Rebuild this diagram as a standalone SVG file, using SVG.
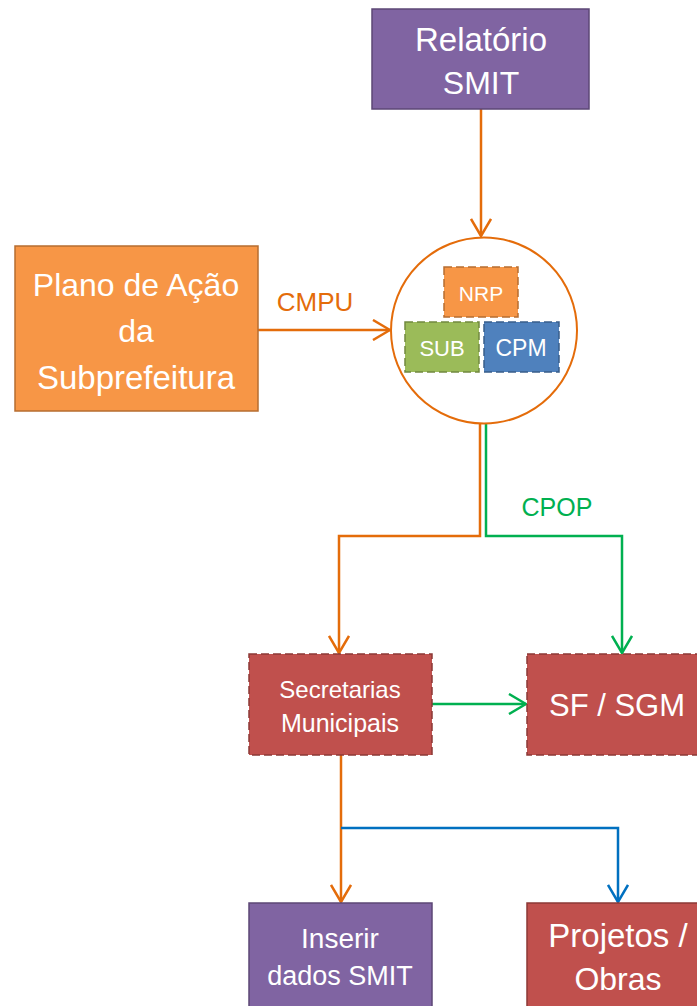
<svg xmlns="http://www.w3.org/2000/svg" width="697" height="1006" viewBox="0 0 697 1006">
<style>
text{font-family:"Liberation Sans","Noto Sans",sans-serif;fill:#fff;text-anchor:middle;dominant-baseline:central}
.purple{fill:#8064A2;stroke:#5C4776;stroke-width:1.5}
.orange{fill:#F79646;stroke:#B66D31;stroke-width:1.5}
.red{fill:#C0504D;stroke:#8C3836;stroke-width:1.5}
.dash{stroke-dasharray:8 4}
.lo{fill:none;stroke:#E46C0A;stroke-width:2.5}
.lg{fill:none;stroke:#00B050;stroke-width:2.5}
.lb{fill:none;stroke:#0070C0;stroke-width:2.5}
</style>
<defs>
<marker id="ao" viewBox="0 0 19 22" refX="18" refY="11" markerWidth="19" markerHeight="22" markerUnits="userSpaceOnUse" orient="auto"><path d="M1,1 L18,11 L1,21" fill="none" stroke="#E46C0A" stroke-width="2.5"/></marker>
<marker id="ag" viewBox="0 0 19 22" refX="18" refY="11" markerWidth="19" markerHeight="22" markerUnits="userSpaceOnUse" orient="auto"><path d="M1,1 L18,11 L1,21" fill="none" stroke="#00B050" stroke-width="2.5"/></marker>
<marker id="ab" viewBox="0 0 19 22" refX="18" refY="11" markerWidth="19" markerHeight="22" markerUnits="userSpaceOnUse" orient="auto"><path d="M1,1 L18,11 L1,21" fill="none" stroke="#0070C0" stroke-width="2.5"/></marker>
</defs>
<rect width="697" height="1006" fill="#fff"/>
<g id="connectors">
<path class="lo" d="M481,109 V236" marker-end="url(#ao)"/>
<path class="lo" d="M258,330 H390" marker-end="url(#ao)"/>
<path class="lo" d="M480,424 V536 H339 V653" marker-end="url(#ao)"/>
<path class="lg" d="M486,424 V536 H622 V653" marker-end="url(#ag)"/>
<path class="lg" d="M432,704 H526" marker-end="url(#ag)"/>
<path class="lo" d="M341,755 V902" marker-end="url(#ao)"/>
<path class="lb" d="M341,828 H618 V902" marker-end="url(#ab)"/>
<text x="315" y="302" style="fill:#E46C0A;font-size:26px">CMPU</text>
<text x="557" y="507" style="fill:#00B050;font-size:25px">CPOP</text>
</g>
<g id="relatorio">
<rect class="purple" x="372" y="9" width="217" height="100"/>
<text x="481" y="39" style="font-size:33px">Relatório</text>
<text x="481" y="83" style="font-size:32px">SMIT</text>
</g>
<g id="plano">
<rect class="orange" x="15" y="246" width="243" height="165"/>
<text x="136" y="285" style="font-size:32px">Plano de Ação</text>
<text x="136" y="331" style="font-size:32px">da</text>
<text x="136" y="377" style="font-size:33px">Subprefeitura</text>
</g>
<g id="grupo">
<circle cx="484" cy="330.5" r="93" fill="#fff" stroke="#E46C0A" stroke-width="2"/>
<g id="nrp"><rect class="orange dash" x="444" y="267" width="74" height="50"/><text x="481" y="293" style="font-size:21px">NRP</text></g>
<g id="sub"><rect class="dash" x="405" y="322" width="74" height="50" fill="#9BBB59" stroke="#71893F" stroke-width="1.5"/><text x="442" y="348" style="font-size:22px">SUB</text></g>
<g id="cpm"><rect class="dash" x="484" y="322" width="75" height="50" fill="#4F81BD" stroke="#385D8A" stroke-width="1.5"/><text x="521" y="348" style="font-size:23px">CPM</text></g>
</g>
<g id="secretarias">
<rect class="red dash" x="249" y="654" width="183" height="101"/>
<text x="340" y="689" style="font-size:24px">Secretarias</text>
<text x="340" y="723" style="font-size:25px">Municipais</text>
</g>
<g id="sfsgm">
<rect class="red dash" x="527" y="654" width="180" height="101"/>
<text x="617" y="705" style="font-size:31px">SF / SGM</text>
</g>
<g id="inserir">
<rect class="purple" x="249" y="903" width="183" height="110"/>
<text x="340" y="938" style="font-size:28px">Inserir</text>
<text x="340" y="976" style="font-size:27px">dados SMIT</text>
</g>
<g id="projetos">
<rect class="red" x="527" y="903" width="180" height="110"/>
<text x="618" y="935" style="font-size:33px">Projetos /</text>
<text x="618" y="979" style="font-size:32px">Obras</text>
</g>
</svg>
